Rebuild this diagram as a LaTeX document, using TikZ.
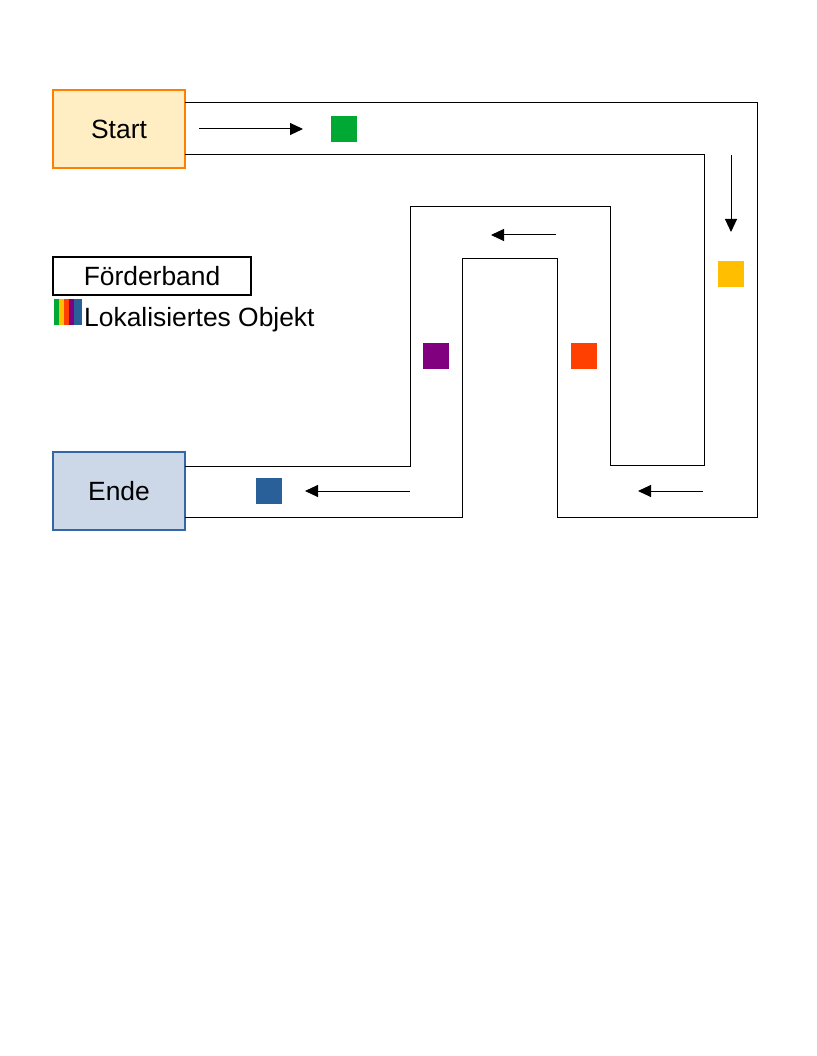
\documentclass[tikz,border=0pt]{standalone}
\usepackage{fontspec}
\setmainfont{Liberation Sans}
\usetikzlibrary{arrows.meta}
\definecolor{startfill}{HTML}{FFEEC4}
\definecolor{startdraw}{HTML}{FF8000}
\definecolor{endefill}{HTML}{CCD8E8}
\definecolor{endedraw}{HTML}{3465A4}
\definecolor{cgreen}{HTML}{00A933}
\definecolor{cyellow}{HTML}{FFBF00}
\definecolor{cred}{HTML}{FF4000}
\definecolor{cpurple}{HTML}{800080}
\definecolor{cblue}{HTML}{2A6099}
\tikzset{
  lbl/.style={font=\fontsize{26.4}{30}\selectfont, inner sep=0pt},
  endbox/.style={draw, line width=1.1pt, minimum width=132pt, minimum height=78pt, inner sep=0pt, font=\fontsize{26.4}{30}\selectfont},
  belt/.style={line width=1pt, line cap=rect},
  flow/.style={line width=1pt, -{Triangle[length=13pt,width=12pt]}},
  obj/.style={minimum size=26pt, inner sep=0pt, outer sep=0pt},
}
\begin{document}
\begin{tikzpicture}[x=1pt,y=-1pt]
\useasboundingbox (0,0) rectangle (816,1056);
% end boxes
\node[endbox, fill=startfill, draw=startdraw] (start) at (119,129) {Start};
\node[endbox, fill=endefill, draw=endedraw] (ende) at (119,491) {Ende};
% conveyor belt
\draw[belt] (185,103) -- (757,103) -- (757,517) -- (557,517) -- (557,259) -- (462,259) -- (462,517) -- (185,517);
\draw[belt] (185,155) -- (704,155) -- (704,465) -- (610,465) -- (610,207) -- (410,207) -- (410,466) -- (185,466);
% flow arrows
\coordinate (a1s) at (199,129); \coordinate (a1e) at (303,129);
\coordinate (a2s) at (731,155); \coordinate (a2e) at (731,232);
\coordinate (a3s) at (556,235); \coordinate (a3e) at (491,235);
\coordinate (a4s) at (703,491); \coordinate (a4e) at (638,491);
\coordinate (a5s) at (410,491); \coordinate (a5e) at (305,491);
\draw[flow] (a1s) -- (a1e);
\draw[flow] (a2s) -- (a2e);
\draw[flow] (a3s) -- (a3e);
\draw[flow] (a4s) -- (a4e);
\draw[flow] (a5s) -- (a5e);
% objects
\node[obj, fill=cgreen] (o1) at (344,129) {};
\node[obj, fill=cyellow] (o2) at (731,274) {};
\node[obj, fill=cred] (o3) at (584,356) {};
\node[obj, fill=cpurple] (o4) at (436,356) {};
\node[obj, fill=cblue] (o5) at (268.5,490.5) {};
% legend
\node[draw, line width=1.1pt, minimum width=198pt, minimum height=38pt, inner sep=0pt, font=\fontsize{26.4}{30}\selectfont] (leg) at (152,276) {Förderband};
\fill[cgreen]  (54,299) rectangle (59,325);
\fill[cyellow] (59,299) rectangle (64,325);
\fill[cred]    (64,299) rectangle (69,325);
\fill[cpurple] (69,299) rectangle (74,325);
\fill[cblue]   (74,299) rectangle (82,325);
\node[lbl, anchor=base west] (legobj) at (84,326) {Lokalisiertes Objekt};
\end{tikzpicture}
\end{document}
